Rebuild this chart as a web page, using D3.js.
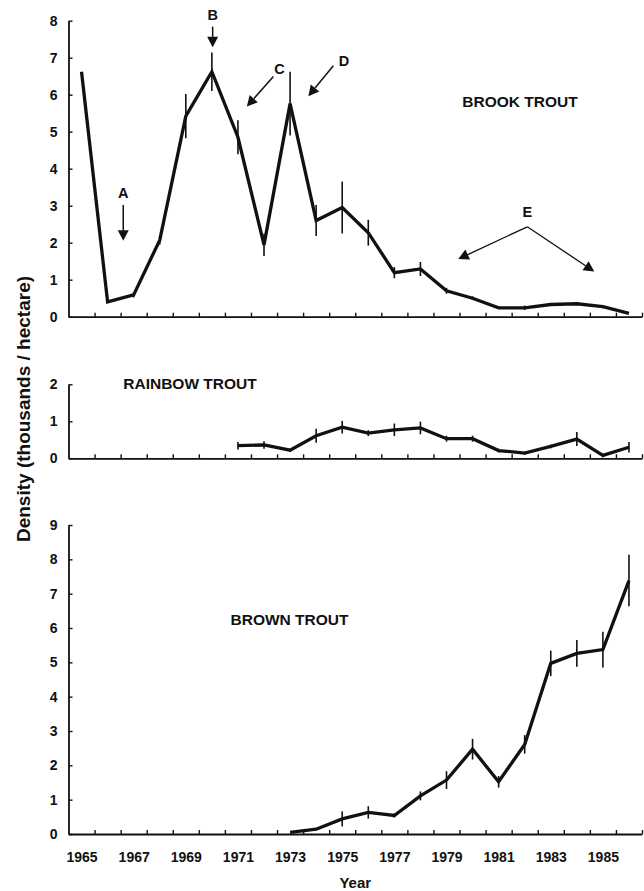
<!DOCTYPE html>
<html>
<head>
<meta charset="utf-8">
<script src="https://cdn.jsdelivr.net/npm/d3@7"></script>
<style>
  body { margin: 0; background: #fff; }
  svg { display: block; }
  text { font-family: "Liberation Sans", Arial, Helvetica, sans-serif; font-weight: bold; fill: #111; }
</style>
</head>
<body>
<svg id="chart" width="644" height="891"></svg>
<script>
// Trout density (thousands / hectare) by year, with error-bar half-widths
const brookYears   = [1965,1966,1967,1968,1969,1970,1971,1972,1973,1974,1975,1976,1977,1978,1979,1980,1981,1982,1983,1984,1985,1986];
const brookDensity = [6.62,0.40,0.59,2.07,5.42,6.62,4.85,1.94,5.76,2.60,2.95,2.27,1.19,1.29,0.70,0.50,0.24,0.24,0.33,0.35,0.27,0.09];
const brookError   = [0,0,0.07,0.12,0.60,0.52,0.46,0.30,0.86,0.42,0.70,0.35,0.15,0.19,0.08,0.05,0.03,0.06,0.04,0.05,0.04,0];

const rainbowYears   = [1971,1972,1973,1974,1975,1976,1977,1978,1979,1980,1981,1982,1983,1984,1985,1986];
const rainbowDensity = [0.34,0.36,0.22,0.61,0.84,0.68,0.77,0.82,0.53,0.53,0.21,0.14,0.32,0.52,0.08,0.30];
const rainbowError   = [0.10,0.10,0.04,0.19,0.17,0.08,0.17,0.17,0.08,0.08,0.05,0.04,0.05,0.19,0.05,0.14];

const brownYears   = [1973,1974,1975,1976,1977,1978,1979,1980,1981,1982,1983,1984,1985,1986];
const brownDensity = [0.05,0.14,0.44,0.63,0.54,1.11,1.57,2.47,1.52,2.61,4.97,5.26,5.37,7.38];
const brownError   = [0,0.03,0.22,0.18,0.06,0.13,0.26,0.30,0.17,0.27,0.37,0.39,0.52,0.75];

const yearTickLabels = [1965,1967,1969,1971,1973,1975,1977,1979,1981,1983,1985];
const brookTicks   = [0,1,2,3,4,5,6,7,8];
const rainbowTicks = [0,1,2];
const brownTicks   = [0,1,2,3,4,5,6,7,8,9];

// Annotation arrows on the brook trout panel (year, density coordinates)
const brookNotes = [
  { label: "A", at: [1966.60, 3.35], from: [[1966.60, 3.02]], to: [[1966.60, 2.05]], thin: false },
  { label: "B", at: [1970.03, 8.15], from: [[1970.03, 7.84]], to: [[1970.03, 7.28]], thin: false },
  { label: "C", at: [1972.59, 6.69], from: [[1972.36, 6.49]], to: [[1971.34, 5.68]], thin: false },
  { label: "D", at: [1975.07, 6.92], from: [[1974.66, 6.78]], to: [[1973.70, 5.96]], thin: false },
  { label: "E", at: [1982.10, 2.84], from: [[1982.10, 2.43],[1982.10, 2.43]], to: [[1979.45, 1.56],[1984.67, 1.22]], thin: true }
];

const svg = d3.select("#chart");

// Shared year axis: years sit at category centres, ticks at the boundaries
const x = d3.scaleLinear().domain([1964.5, 1986.5]).range([68.5, 642]);
const yearBoundaries = d3.range(1965.5, 1987, 1);

const panels = [
  { name: "BROOK TROUT",   years: brookYears,   vals: brookDensity,   errs: brookError,
    domain: [0, 8], range: [316.7, 20.7], ticks: brookTicks,   labelAt: [520, 101.7] },
  { name: "RAINBOW TROUT", years: rainbowYears, vals: rainbowDensity, errs: rainbowError,
    domain: [0, 2], range: [458.3, 384.3], ticks: rainbowTicks, labelAt: [190, 384] },
  { name: "BROWN TROUT",   years: brownYears,   vals: brownDensity,   errs: brownError,
    domain: [0, 9], range: [834, 525],     ticks: brownTicks,   labelAt: [289.5, 620] }
];

panels.forEach((p, i) => {
  const y = d3.scaleLinear().domain(p.domain).range(p.range);
  p.y = y;
  const g = svg.append("g");

  // x axis with inward ticks
  const xa = g.append("g")
    .attr("transform", `translate(0,${y(0)})`)
    .call(d3.axisBottom(x).tickValues(yearBoundaries).tickSize(-4).tickSizeOuter(0).tickFormat(""));
  xa.select(".domain").attr("stroke", "#111").attr("stroke-width", 1.8);
  xa.selectAll(".tick line").attr("stroke", "#111").attr("stroke-width", 1.4);

  // y axis with inward ticks
  const ya = g.append("g")
    .attr("transform", `translate(${x.range()[0]},0)`)
    .call(d3.axisLeft(y).tickValues(p.ticks).tickSize(-4).tickSizeOuter(0).tickPadding(11).tickFormat(d3.format("d")));
  ya.select(".domain").attr("stroke", "#111").attr("stroke-width", 1.8);
  ya.selectAll(".tick line").attr("stroke", "#111").attr("stroke-width", 1.4);
  ya.selectAll(".tick text").attr("font-size", 14).style("font-family", "'Liberation Sans', Arial, sans-serif").style("font-weight", "bold").attr("fill", "#111");

  const pts = p.years.map((yr, k) => ({ yr, v: p.vals[k], e: p.errs[k] }));

  // error bars
  g.append("g").selectAll("line")
    .data(pts.filter(d => d.e > 0))
    .join("line")
    .attr("x1", d => x(d.yr)).attr("x2", d => x(d.yr))
    .attr("y1", d => y(d.v - d.e)).attr("y2", d => y(d.v + d.e))
    .attr("stroke", "#111").attr("stroke-width", 1.6);

  // density line
  g.append("path")
    .datum(pts)
    .attr("fill", "none").attr("stroke", "#111").attr("stroke-width", 3.3)
    .attr("stroke-linejoin", "miter").attr("stroke-miterlimit", 4)
    .attr("d", d3.line().x(d => x(d.yr)).y(d => y(d.v)));

  // species label
  g.append("text")
    .attr("x", p.labelAt[0]).attr("y", p.labelAt[1]).attr("dy", "0.35em")
    .attr("text-anchor", "middle").attr("font-size", 15.5)
    .text(p.name);
});

// year labels under the bottom panel
const bottomY = panels[2].y;
const xl = svg.append("g")
  .attr("transform", `translate(0,${bottomY(0)})`)
  .call(d3.axisBottom(x).tickValues(yearTickLabels).tickSize(0).tickPadding(18).tickFormat(d3.format("d")));
xl.select(".domain").remove();
xl.selectAll(".tick text").attr("font-size", 14).style("font-family", "'Liberation Sans', Arial, sans-serif").style("font-weight", "bold").attr("fill", "#111");

// axis titles
svg.append("text")
  .attr("x", d3.mean(x.range())).attr("y", 883).attr("dy", "0.35em")
  .attr("text-anchor", "middle").attr("font-size", 15)
  .text("Year");

svg.append("text")
  .attr("transform", "translate(23,409) rotate(-90)")
  .attr("dy", "0.35em").attr("text-anchor", "middle").attr("font-size", 19)
  .text("Density (thousands / hectare)");

// annotation arrows on the brook trout panel
const yb = panels[0].y;
function arrowHead(g, p0, p1, len, half) {
  const dx = p1[0] - p0[0], dy = p1[1] - p0[1];
  const L = Math.hypot(dx, dy), ux = dx / L, uy = dy / L;
  const bx = p1[0] - ux * len, by = p1[1] - uy * len;
  g.append("path")
    .attr("d", `M${p1[0]},${p1[1]}L${bx - uy * half},${by + ux * half}L${bx + uy * half},${by - ux * half}Z`)
    .attr("fill", "#111");
  return [bx, by];
}
const notes = svg.append("g");
brookNotes.forEach(n => {
  notes.append("text")
    .attr("x", x(n.at[0])).attr("y", yb(n.at[1])).attr("dy", "0.35em")
    .attr("text-anchor", "middle").attr("font-size", 14.5)
    .text(n.label);
  n.from.forEach((f, k) => {
    const p0 = [x(f[0]), yb(f[1])];
    const p1 = [x(n.to[k][0]), yb(n.to[k][1])];
    const base = arrowHead(notes, p0, p1, 10.5, 5.5);
    notes.append("line")
      .attr("x1", p0[0]).attr("y1", p0[1]).attr("x2", base[0]).attr("y2", base[1])
      .attr("stroke", "#111").attr("stroke-width", n.thin ? 1.3 : 1.5);
  });
});
</script>
</body>
</html>
